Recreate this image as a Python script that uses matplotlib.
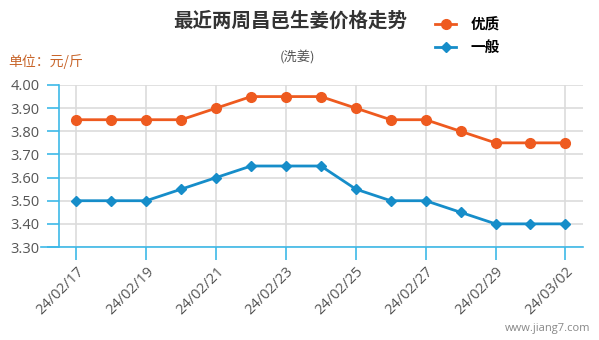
import matplotlib
matplotlib.use('Agg')
from matplotlib import pyplot as plt

plt.rcParams['font.family'] = ['Noto Sans CJK SC', 'DejaVu Sans']

# 日期与价格（元/斤）
dates = ['24/02/17', '24/02/18', '24/02/19', '24/02/20', '24/02/21',
         '24/02/22', '24/02/23', '24/02/24', '24/02/25', '24/02/26',
         '24/02/27', '24/02/28', '24/02/29', '24/03/01', '24/03/02']
good = [3.85, 3.85, 3.85, 3.85, 3.90, 3.95, 3.95, 3.95, 3.90, 3.85,
        3.85, 3.80, 3.75, 3.75, 3.75]
normal = [3.50, 3.50, 3.50, 3.55, 3.60, 3.65, 3.65, 3.65, 3.55, 3.50,
          3.50, 3.45, 3.40, 3.40, 3.40]
y_ticks = [3.30, 3.40, 3.50, 3.60, 3.70, 3.80, 3.90, 4.00]

c_good = '#ee5a1f'
c_normal = '#168dc9'
c_axis = '#3db9e8'
c_grid = '#dcdcdc'

fig = plt.figure(figsize=(5.99, 3.40), dpi=100)
ax = fig.add_axes([0.0985, 0.2735, 0.8745, 0.4765])

x = list(range(len(dates)))
ax.plot(x, good, color=c_good, lw=2, marker='o', ms=7, label='优质', zorder=3)
ax.plot(x, normal, color=c_normal, lw=2, marker='D', ms=5.5, label='一般', zorder=3)

ax.set_xlim(-0.5, len(dates) - 0.5)
ax.set_ylim(3.30, 4.00)
ax.set_yticks(y_ticks)
ax.set_yticklabels(['%.2f' % v for v in y_ticks], family='Open Sans')
ax.set_xticks(x[::2])
ax.set_xticklabels(dates[::2], rotation=45, ha='right', rotation_mode='anchor',
                   family='Open Sans')

ax.grid(True, color=c_grid, lw=1.2, zorder=0)
ax.set_axisbelow(True)
for s in ['top', 'right']:
    ax.spines[s].set_visible(False)
ax.spines['left'].set_color(c_axis)
ax.spines['bottom'].set_color(c_axis)
ax.spines['left'].set_linewidth(1.2)
ax.spines['bottom'].set_linewidth(1.2)
ax.spines['bottom'].set_bounds(-1.02, len(dates) - 0.5)
ax.tick_params(axis='both', colors=c_axis, length=9, width=1.2, labelsize=10.5)
ax.tick_params(axis='x', labelcolor='#555555', pad=3)
ax.tick_params(axis='y', labelcolor='#555555', pad=5)

fig.text(0.485, 0.938, '最近两周昌邑生姜价格走势', ha='center', va='center',
         fontsize=14, fontweight='bold', color='#333333')
fig.text(0.497, 0.832, '(洗姜)', ha='center', va='center', fontsize=9.5, color='#555555')
fig.text(0.013, 0.818, '单位：元/斤', ha='left', va='center', fontsize=10, color='#c8652a')
fig.text(0.985, 0.035, 'www.jiang7.com', ha='right', va='center', fontsize=8,
         color='#888888', family='Open Sans')

fig.legend(loc='upper left', bbox_to_anchor=(0.705, 0.99), frameon=False,
           prop={'size': 10.5, 'weight': 'bold'}, handlelength=1.4,
           labelspacing=0.45, handletextpad=1.0)

fig.savefig('out.png', dpi=100)
